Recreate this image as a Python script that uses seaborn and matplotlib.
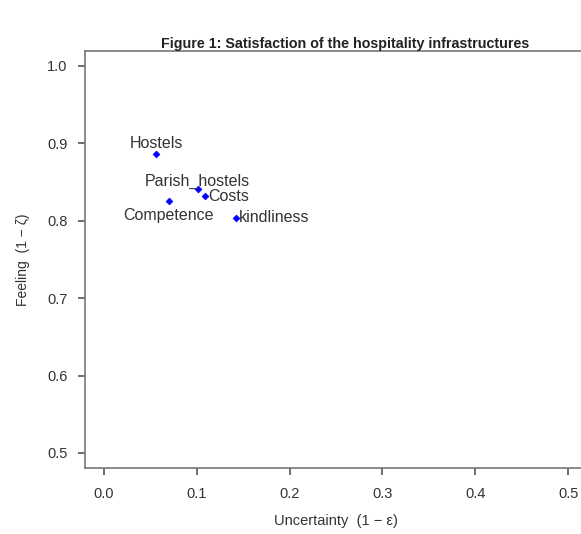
import matplotlib
matplotlib.use("Agg")
import matplotlib.pyplot as plt
import seaborn as sns
import pandas as pd

labels = ["Hostels", "Parish_hostels", "Costs", "Competence", "kindliness"]
uncertainty = [0.056, 0.101, 0.109, 0.070, 0.142]
feeling = [0.886, 0.841, 0.832, 0.825, 0.804]
xticks = [0.0, 0.1, 0.2, 0.3, 0.4, 0.5]
yticks = [0.5, 0.6, 0.7, 0.8, 0.9, 1.0]

df = pd.DataFrame({"label": labels, "x": uncertainty, "y": feeling})

sns.set_style("white")
plt.rcParams['font.family'] = ['Liberation Sans', 'DejaVu Sans']

fig = plt.figure(figsize=(5.81, 5.34), dpi=100)
ax = fig.add_axes([0.147, 0.1227, 0.8627, 0.7827])
sns.scatterplot(data=df, x="x", y="y", ax=ax, marker="D", s=12,
                color="#0000ff", edgecolor="#0000ff", linewidth=0.5, legend=False)

offsets = {"Hostels": (0, 2, "center", "bottom"),
           "Parish_hostels": (0, 0, "center", "bottom"),
           "Costs": (2, 0, "left", "center"),
           "Competence": (0, -4.5, "center", "top"),
           "kindliness": (2, 0, "left", "center")}
for lab, xv, yv in zip(labels, uncertainty, feeling):
    dx, dy, ha, va = offsets[lab]
    ax.annotate(lab, (xv, yv), xytext=(dx, dy), textcoords="offset points",
                ha=ha, va=va, fontsize=11.5, color="#333333")

ax.set_xlim(-0.02, 0.52)
ax.set_ylim(0.48, 1.02)
ax.set_xticks(xticks)
ax.set_yticks(yticks)
ax.set_xticklabels([f"{v:.1f}" for v in xticks])
ax.set_yticklabels([f"{v:.1f}" for v in yticks])
ax.tick_params(axis="both", bottom=True, left=True, direction="out", length=5,
               width=1.2, color="#555555", labelsize=10.5, labelcolor="#333333", pad=8)
for s in ax.spines.values():
    s.set_color("#777777")
    s.set_linewidth(1.2)
ax.set_xlabel("Uncertainty  (1 − ε)", fontsize=10.5, color="#333333", labelpad=10)
ax.set_ylabel("Feeling  (1 − ζ)", fontsize=10, color="#333333", labelpad=12)
fig.text(0.594, 0.905, "Figure 1: Satisfaction of the hospitality infrastructures",
         ha="center", va="bottom", fontsize=10.3, fontweight="bold", color="#222222")
fig.savefig("out.png", dpi=100)
